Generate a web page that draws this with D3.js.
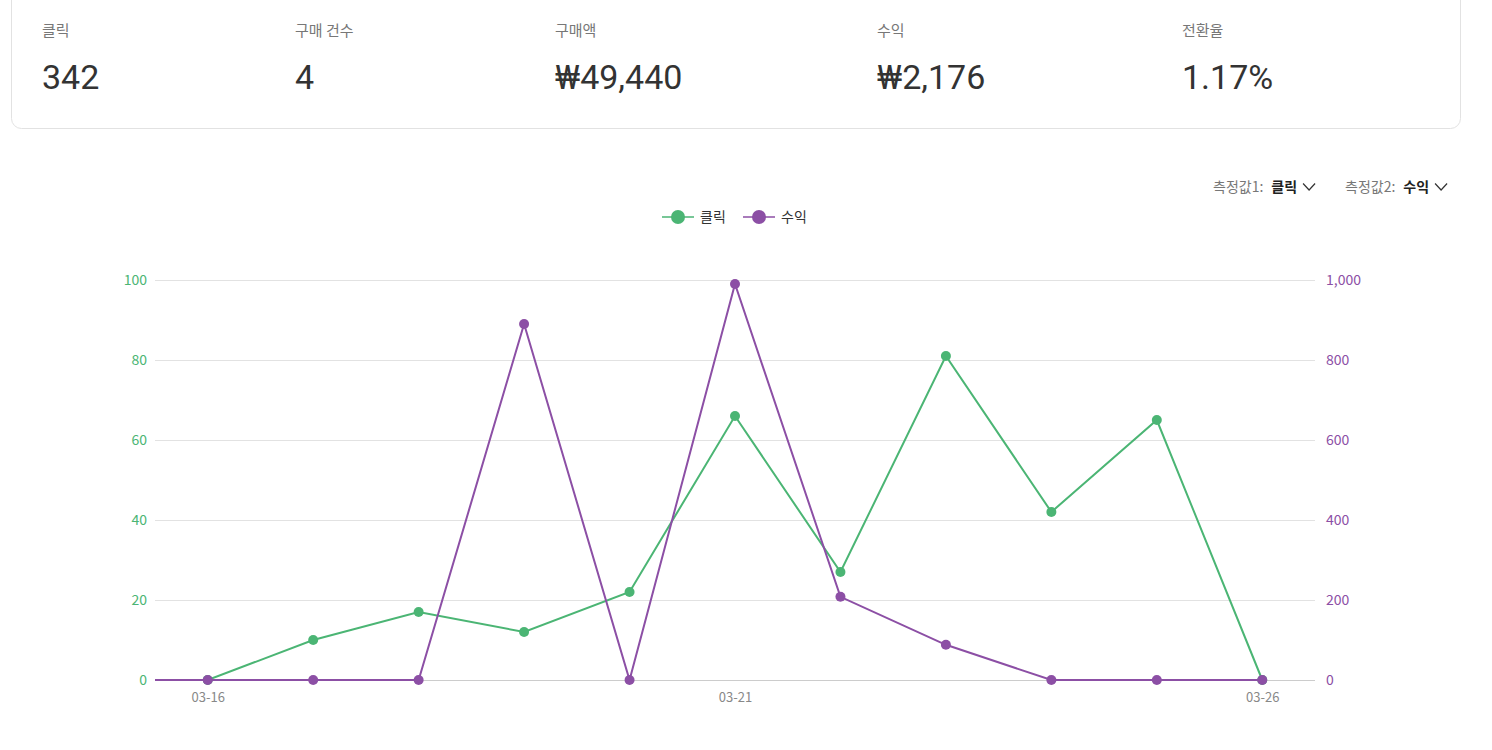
<!DOCTYPE html>
<html><head><meta charset="utf-8">
<script src="https://cdn.jsdelivr.net/npm/d3@7"></script>
<style>
html,body{margin:0;padding:0;background:#fff;}
svg{display:block;}
</style></head>
<body>
<svg id="chart" width="1492" height="750"></svg>
<script>
const summaryLabels = ["클릭", "구매 건수", "구매액", "수익", "전환율"];
const summaryValues = ["342", "4", "₩49,440", "₩2,176", "1.17%"];
const dates = ["03-16","03-17","03-18","03-19","03-20","03-21","03-22","03-23","03-24","03-25","03-26"];
const clicks = [0, 10, 17, 12, 22, 66, 27, 81, 42, 65, 0];
const revenue = [0, 0, 0, 890, 0, 990, 208, 88, 0, 0, 0];
const leftTicks = [0, 20, 40, 60, 80, 100];
const rightTicks = [0, 200, 400, 600, 800, 1000];
const xTickLabels = ["03-16", "03-21", "03-26"];
const seriesNames = ["클릭", "수익"];

(function () {
const GREEN = "#4bb574", PURPLE = "#8c4fa5";
const KR = "'Noto Sans CJK KR', 'Noto Sans', sans-serif";
const svg = d3.select("#chart");

// summary card
svg.append("rect").attr("x", 11.5).attr("y", -20).attr("width", 1449).attr("height", 148.5)
  .attr("rx", 10).attr("fill", "#fff").attr("stroke", "#e2e2e2");
const colX = [42, 295, 555, 877, 1182];
summaryLabels.forEach((l, i) => {
  svg.append("text").attr("x", colX[i]).attr("y", 36).text(l)
    .attr("font-family", KR).attr("font-size", 15).attr("fill", "#777");
  svg.append("text").attr("x", colX[i]).attr("y", 89).text(summaryValues[i])
    .attr("font-family", "Roboto, sans-serif").attr("font-size", 34).attr("fill", "#333");
});

// measure selectors
function selector(x0, label, val) {
  const g = svg.append("g").attr("font-family", KR).attr("font-size", 14);
  const t1 = g.append("text").attr("x", x0).attr("y", 192).attr("fill", "#777").text(label);
  const w1 = t1.node().getComputedTextLength();
  const t2 = g.append("text").attr("x", x0 + w1 + 8).attr("y", 192).attr("fill", "#222").attr("font-weight", "bold").text(val);
  const w2 = t2.node().getComputedTextLength();
  const cx = x0 + w1 + 8 + w2 + 6;
  g.append("path").attr("d", `M${cx},183.5 L${cx+6},190 L${cx+12},183.5`).attr("fill", "none").attr("stroke", "#333").attr("stroke-width", 1.2);
}
selector(1213, "측정값1:", "클릭");
selector(1345, "측정값2:", "수익");

// legend
const legend = svg.append("g").attr("font-family", KR).attr("font-size", 14);
[[GREEN, seriesNames[0], 662], [PURPLE, seriesNames[1], 743]].forEach(([c, n, lx]) => {
  legend.append("line").attr("x1", lx).attr("x2", lx + 32).attr("y1", 217).attr("y2", 217).attr("stroke", c).attr("stroke-width", 1.5);
  legend.append("circle").attr("cx", lx + 16).attr("cy", 217).attr("r", 7).attr("fill", c);
  legend.append("text").attr("x", lx + 38).attr("y", 222).attr("fill", "#333").text(n);
});

// plot
const pLeft = 155, pRight = 1315, pTop = 280, pBottom = 680;
const x = d3.scalePoint().domain(dates).range([pLeft, pRight]).padding(0.5);
const yL = d3.scaleLinear().domain([0, 100]).range([pBottom, pTop]);
const yR = d3.scaleLinear().domain([0, 1000]).range([pBottom, pTop]);

svg.append("g").selectAll("line").data(leftTicks.slice(1)).join("line")
  .attr("x1", pLeft).attr("x2", pRight).attr("y1", d => yL(d) + 0.5).attr("y2", d => yL(d) + 0.5)
  .attr("stroke", "#e2e2e2");
svg.append("line").attr("x1", pLeft).attr("x2", pRight).attr("y1", pBottom + 0.5).attr("y2", pBottom + 0.5).attr("stroke", "#ccc");

const axL = svg.append("g").attr("transform", `translate(${pLeft - 8},0)`)
  .call(d3.axisLeft(yL).tickValues(leftTicks).tickSize(0).tickPadding(0).tickFormat(d3.format(",")));
axL.select(".domain").remove();
axL.selectAll("text").attr("fill", GREEN).attr("font-family", KR).attr("font-size", 14);

const axR = svg.append("g").attr("transform", `translate(${pRight + 11},0)`)
  .call(d3.axisRight(yR).tickValues(rightTicks).tickSize(0).tickPadding(0).tickFormat(d3.format(",")));
axR.select(".domain").remove();
axR.selectAll("text").attr("fill", PURPLE).attr("font-family", KR).attr("font-size", 14);

const axB = svg.append("g").attr("transform", `translate(0,${pBottom + 10})`)
  .call(d3.axisBottom(x).tickValues(xTickLabels).tickSize(0).tickPadding(0));
axB.select(".domain").remove();
axB.selectAll("text").attr("fill", "#888").attr("font-family", KR).attr("font-size", 13).attr("dy", "0.9em");

function series(vals, y, color) {
  const pts = vals.map((v, i) => [x(dates[i]), y(v)]);
  const lead = [[pLeft, y(vals[0])]].concat(pts);
  svg.append("path").attr("d", d3.line()(lead)).attr("fill", "none").attr("stroke", color).attr("stroke-width", 2);
  svg.append("g").selectAll("circle").data(pts).join("circle")
    .attr("cx", d => d[0]).attr("cy", d => d[1]).attr("r", 5).attr("fill", color);
}
series(clicks, yL, GREEN);
series(revenue, yR, PURPLE);
})();
</script>
</body></html>
